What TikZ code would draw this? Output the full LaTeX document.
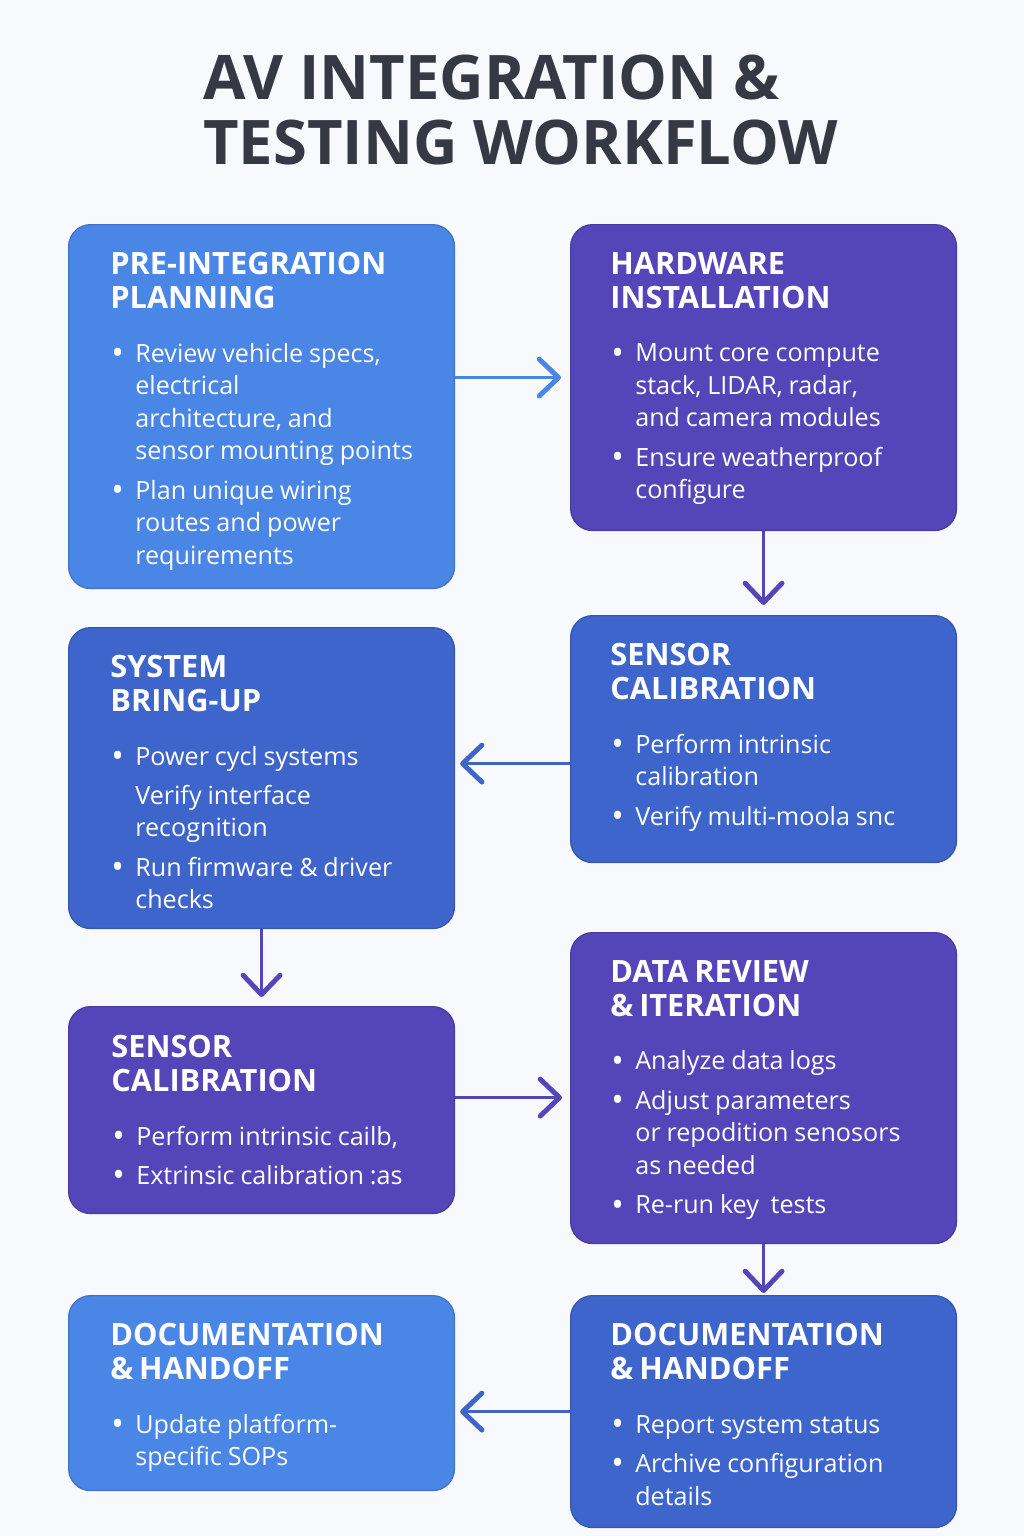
\documentclass[tikz,border=0pt]{standalone}
\usepackage{fontspec}
\setmainfont{Open Sans}
\usetikzlibrary{arrows.meta,calc}

\definecolor{bgpage}{HTML}{F7F9FD}
\definecolor{titlegray}{HTML}{343944}
\definecolor{lightblue}{HTML}{4A86E6}
\definecolor{midblue}{HTML}{3D65CB}
\definecolor{stepviolet}{HTML}{5446B9}

% box contents
\newcommand\stepdot{\raisebox{-1.4pt}{\fontsize{19}{18.5}\selectfont\textbullet}}
\newcommand\stephead[1]{{\fontsize{17.5}{19.3}\selectfont\bfseries\noindent #1\par}\vspace{12pt}}
\newcommand\stepitem[1]{{\fontsize{14.3}{18.5}\selectfont\noindent\hangindent=0.5cm\hangafter=1%
  \makebox[0.5cm][l]{\hspace{0.02cm}\stepdot}#1\par}\vspace{3.9pt}}
\newcommand\stepmore[1]{{\fontsize{14.3}{18.5}\selectfont\noindent\hangindent=0.5cm\hangafter=1%
  \makebox[0.5cm][l]{}#1\par}\vspace{3.9pt}}

\begin{document}
\begin{tikzpicture}[x=0.02cm,y=-0.02cm,
stepbox/.style ={rectangle, rounded corners=0.44cm, line width=0.7pt,
  minimum width=7.72cm, anchor=north west, inner sep=0pt
},
lightbox/.style ={stepbox, fill=lightblue, draw=lightblue!85!black},
midbox/.style ={stepbox, fill=midblue, draw=midblue!85!black},
violetbox/.style ={stepbox, fill=stepviolet, draw=stepviolet!85!black},
steptext/.style ={anchor=north west, inner sep=0pt, text width=6.6cm,
  align=left, text=white
},
flowarrow/.style ={line width=1.7pt,
  -{Straight Barb[length=11pt,width=21pt,line width=2.8pt,round]}
}]
\fill[bgpage] (0,0) rectangle (1024,1536);

\node (title) at (203,55) [anchor=north west, inner sep=0pt, align=left,
  text=titlegray, font=\fontsize{35}{37}\selectfont\bfseries]
  {AV INTEGRATION \&\\TESTING WORKFLOW};

% boxes
\node (pre) at (68,224) [lightbox, minimum height=7.28cm] {};
\node (hw) at (570,224) [violetbox, minimum height=6.12cm] {};
\node (bu) at (68,627) [midbox, minimum height=6.02cm] {};
\node (sc) at (570,615) [midbox, minimum height=4.94cm] {};
\node (scb) at (68,1006) [violetbox, minimum height=4.14cm] {};
\node (dr) at (570,932) [violetbox, minimum height=6.22cm] {};
\node (docl) at (68,1295) [lightbox, minimum height=3.9cm] {};
\node (docr) at (570,1295) [midbox, minimum height=4.64cm] {};

% texts
\node (pretext) at ([xshift=0.84cm,yshift=-0.56cm]pre.north west) [steptext] {%
  \stephead{PRE-INTEGRATION\newline PLANNING}
  \stepitem{Review vehicle specs,\newline electrical\newline architecture, and\newline sensor mounting points}
  \stepitem{Plan unique wiring\newline routes and power\newline requirements}};
\node (hwtext) at ([xshift=0.8cm,yshift=-0.56cm]hw.north west) [steptext] {%
  \stephead{HARDWARE\newline INSTALLATION}
  \stepitem{Mount core compute\newline stack, LIDAR, radar,\newline and camera modules}
  \stepitem{Ensure weatherproof\newline configure}};
\node (butext) at ([xshift=0.84cm,yshift=-0.56cm]bu.north west) [steptext] {%
  \stephead{SYSTEM\newline BRING-UP}
  \stepitem{Power cycl systems}
  \stepmore{Verify interface\newline recognition}
  \stepitem{Run firmware \& driver\newline checks}};
\node (sctext) at ([xshift=0.8cm,yshift=-0.56cm]sc.north west) [steptext] {%
  \stephead{SENSOR\newline CALIBRATION}
  \stepitem{Perform intrinsic\newline calibration}
  \stepitem{Verify multi-moola snc}};
\node (scbtext) at ([xshift=0.86cm,yshift=-0.58cm]scb.north west) [steptext] {%
  \stephead{SENSOR\newline CALIBRATION}
  \stepitem{Perform intrinsic cailb,}
  \stepitem{Extrinsic calibration :as}};
\node (drtext) at ([xshift=0.8cm,yshift=-0.56cm]dr.north west) [steptext] {%
  \stephead{DATA REVIEW\newline \& ITERATION}
  \stepitem{Analyze data logs}
  \stepitem{Adjust parameters\newline or repodition senosors\newline as needed}
  \stepitem{Re-run key\ \ tests}};
\node (docltext) at ([xshift=0.84cm,yshift=-0.56cm]docl.north west) [steptext] {%
  \stephead{DOCUMENTATION\newline \& HANDOFF}
  \stepitem{Update platform-\newline specific SOPs}};
\node (docrtext) at ([xshift=0.8cm,yshift=-0.56cm]docr.north west) [steptext] {%
  \stephead{DOCUMENTATION\newline \& HANDOFF}
  \stepitem{Report system status}
  \stepitem{Archive configuration\newline details}};

% arrows
\draw[flowarrow, lightblue, shorten >=0.18cm] (pre.east |- hw.west) -- (hw.west);
\draw[flowarrow, stepviolet, shorten >=0.2cm] (hw.south) -- (sc.north);
\coordinate (scout) at ([yshift=-0.49cm]sc.west);
\draw[flowarrow, midblue, shorten >=0.1cm] (scout) -- (bu.east |- scout);
\draw[flowarrow, stepviolet, shorten >=0.18cm] (bu.south) -- (scb.north);
\coordinate (scbout) at ([yshift=0.25cm]scb.east);
\draw[flowarrow, stepviolet, shorten >=0.16cm] (scbout) -- (dr.west |- scbout);
\draw[flowarrow, stepviolet, shorten >=0.04cm] (dr.south) -- (docr.north);
\draw[flowarrow, midblue, shorten >=0.1cm] (docr.west) -- (docl.east |- docr.west);
\end{tikzpicture}
\end{document}
